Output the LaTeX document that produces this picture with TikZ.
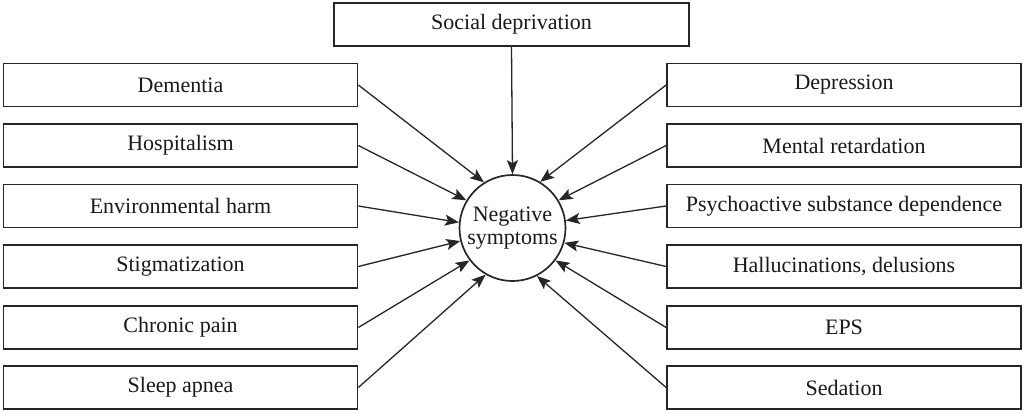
\documentclass[tikz,border=0pt]{standalone}
\usepackage{fontspec}
\setmainfont{Liberation Serif}
\usetikzlibrary{arrows.meta}
\begin{document}
\begin{tikzpicture}[x=1pt,y=-1pt,
  box/.style={draw=black!85, line width=1.7pt, minimum width=354pt, minimum height=43pt, inner sep=0pt, font=\fontsize{22}{25}\selectfont, text=black!90},
  topbox/.style={box, minimum width=355pt},
  hub/.style={draw=black!85, circle, line width=1.7pt, minimum size=106pt, inner sep=0pt, align=center, font=\fontsize{22}{23}\selectfont, text=black!90},
  link/.style={draw=black!85, line width=1.3pt, -{Stealth[length=14pt,width=11pt,inset=3pt]}}]
\useasboundingbox (0,0) rectangle (1024,413);
\node[hub] (c) at (512.5,228) {Negative\\symptoms};
\node[topbox] (s) at (511.5,24.5) {Social deprivation};
\node[box] (l1) at (180.5,85) {Dementia};
\node[box] (l2) at (180.5,145.5) {Hospitalism};
\node[box] (l3) at (180.5,206) {Environmental harm};
\node[box] (l4) at (180.5,266.5) {Stigmatization};
\node[box] (l5) at (180.5,327.5) {Chronic pain};
\node[box] (l6) at (180.5,387.5) {Sleep apnea};
\node[box] (r1) at (844,85) {Depression};
\node[box] (r2) at (844,145.5) {Mental retardation};
\node[box] (r3) at (844,206) {Psychoactive substance dependence};
\node[box] (r4) at (844,266.5) {Hallucinations, delusions};
\node[box] (r5) at (844,327.5) {EPS};
\node[box] (r6) at (844,387.5) {Sedation};
\draw[link] (s.south) -- (c.90);
\draw[link] (l1.east) -- (c.122);
\draw[link] (l2.east) -- (c.149);
\draw[link] (l3.east) -- (c.174);
\draw[link] (l4.east) -- (c.194);
\draw[link] (l5.east) -- (c.217);
\draw[link] (l6.east) -- (c.240);
\draw[link] (r1.west) -- (c.59);
\draw[link] (r2.west) -- (c.31);
\draw[link] (r3.west) -- (c.8);
\draw[link] (r4.west) -- (c.-16);
\draw[link] (r5.west) -- (c.-37);
\draw[link] (r6.west) -- (c.-63);
\end{tikzpicture}
\end{document}
